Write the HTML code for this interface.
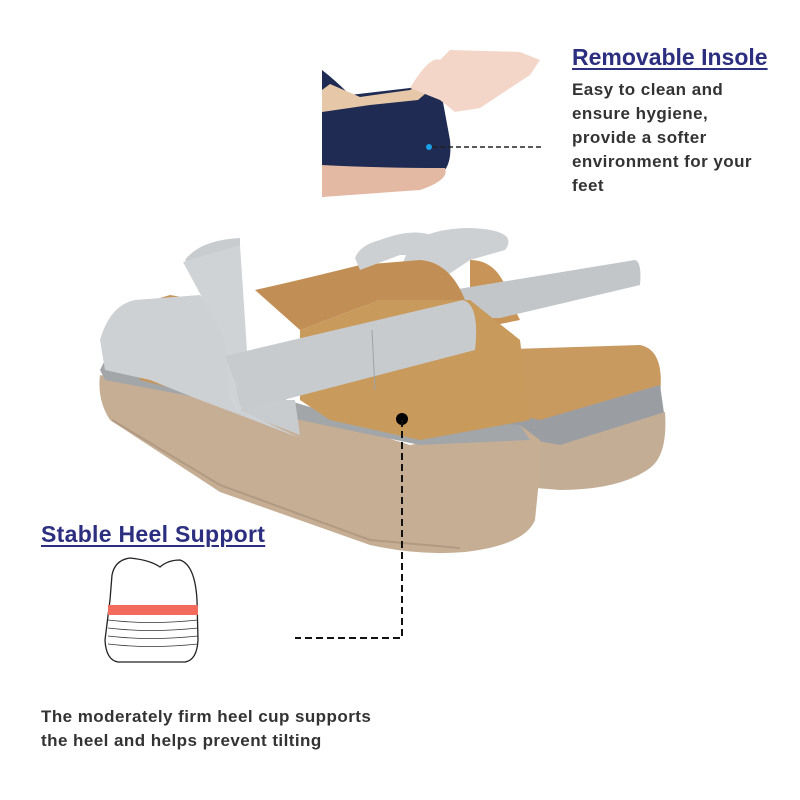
<!DOCTYPE html>
<html><head><meta charset="utf-8"><style>
body{margin:0;background:#fff;}
#c{position:relative;width:800px;height:800px;overflow:hidden;font-family:"Liberation Sans",sans-serif;}
.t{position:absolute;font-weight:bold;color:#2c2e80;font-size:23px;text-decoration:underline;text-decoration-thickness:2px;text-underline-offset:3px;white-space:nowrap;}
.b{position:absolute;font-weight:bold;color:#333;font-size:17px;letter-spacing:0.45px;line-height:24px;white-space:nowrap;}
svg{position:absolute;left:0;top:0;}
</style></head><body><div id="c">
<svg width="800" height="800" viewBox="0 0 800 800">
<!-- inset photo -->
<path d="M322,70 Q335,80 350,95 L410,88 Q430,80 440,86 L450,140 Q452,160 445,170 Q430,180 400,185 L322,197 Z" fill="#1f2b52"/>
<path d="M322,90 L330,84 L360,97 L410,90 Q425,82 432,88 L418,100 L370,105 L322,112 Z" fill="#e6c7a8"/>
<path d="M322,165 Q380,168 445,168 Q450,180 420,190 L322,197 Z" fill="#e3b9a3"/>
<path d="M410,88 Q430,55 440,60 L450,50 L520,52 L540,60 L530,75 L480,108 L455,112 L440,100 Z" fill="#f3d6c8"/>
<circle cx="429" cy="147" r="3" fill="#1aa0e6"/>
<line x1="432" y1="147" x2="542" y2="147" stroke="#222" stroke-width="1.5" stroke-dasharray="5,3"/>
<!-- rear sandal -->
<path d="M505,250 Q520,230 470,228 Q430,228 410,245 L400,270 L440,280 L470,260 Z" fill="#cdd0d2"/>
<path d="M470,260 Q500,260 510,300 L520,320 L470,330 Z" fill="#c89458"/>
<path d="M480,350 L640,345 Q665,350 660,395 L540,430 L480,410 Z" fill="#c99a60"/>
<path d="M470,405 L540,420 L660,385 L665,420 L560,450 L480,440 Z" fill="#9a9ea3"/>
<path d="M480,430 L560,445 L665,412 Q668,455 650,468 Q620,490 560,490 L500,485 L470,470 Z" fill="#c4ad95"/>
<path d="M440,292 L635,260 Q642,262 640,285 L500,318 L445,318 Z" fill="#c2c6c9"/>
<!-- front sandal sole -->
<path d="M100,375 Q97,400 110,420 L220,492 L370,545 Q420,556 465,552 Q525,545 535,520 L540,470 L540,440 L520,425 L410,445 L330,420 L200,395 Z" fill="#c6ae95"/>
<path d="M112,420 L220,485 L370,540 L460,548" fill="none" stroke="#b19a82" stroke-width="2"/>
<path d="M100,370 L115,340 L220,380 L320,410 L520,425 L530,440 L420,445 L300,420 L200,398 L105,380 Z" fill="#a3a6a9"/>
<!-- insole front -->
<path d="M300,330 L380,300 L470,300 L520,340 L530,420 L420,440 L330,420 L300,400 Z" fill="#c89a5c"/>
<path d="M120,310 L170,295 L200,300 L230,380 L200,395 L140,380 Z" fill="#c6955a"/>
<path d="M255,290 Q300,280 360,265 L420,260 Q450,262 465,300 L380,300 L300,330 Z" fill="#c18f55"/>
<!-- upright strap -->
<path d="M185,260 Q200,240 240,238 L240,330 L235,410 L300,435 L295,400 L250,400 L230,300 Z" fill="#c9cccf"/>
<path d="M355,258 Q360,245 380,240 Q420,225 440,240 L440,255 L400,255 L360,270 Z" fill="#cdd0d2"/>
<!-- toe strap -->
<path d="M100,340 Q110,305 135,300 L200,295 L230,330 L240,410 L300,438 L240,415 L200,400 L150,380 L105,370 Z" fill="#cdd1d4"/>
<path d="M183,262 L240,245 L245,320 L250,400 L238,412 L230,400 L225,340 Z" fill="#d0d3d6"/>
<!-- velcro strap -->
<path d="M225,356 L463,300 Q480,305 475,350 L245,410 Q238,408 236,385 Z" fill="#c8cbce"/>
<line x1="372" y1="330" x2="375" y2="390" stroke="#9ea2a6" stroke-width="1"/>
<!-- dot and connector -->
<circle cx="402" cy="419" r="6" fill="#000"/>
<path d="M402,420 L402,638 L295,638" fill="none" stroke="#111" stroke-width="2" stroke-dasharray="7,4"/>
<!-- heel drawing -->
<path d="M110,600 L112,575 Q115,560 130,558 Q150,560 160,567 Q168,560 180,560 Q195,565 197,600 L198,640 Q197,660 185,662 L118,662 Q106,660 105,640 Z" fill="#fff" stroke="#222" stroke-width="1.3"/>
<rect x="108" y="605" width="90" height="10" fill="#f26b5c"/>
<path d="M108,620 Q150,625 198,620 M108,628 Q150,633 198,628 M108,636 Q150,641 198,636 M108,644 Q150,649 198,644" stroke="#333" stroke-width="0.8" fill="none"/>
</svg>
<div class="t" style="left:572px;top:44px;">Removable Insole</div>
<div class="b" style="left:572px;top:78px;">Easy to clean and<br>ensure hygiene,<br>provide a softer<br>environment for your<br>feet</div>
<div class="t" style="left:41px;top:521px;letter-spacing:0.3px;">Stable Heel Support</div>
<div class="b" style="left:41px;top:705px;">The moderately firm heel cup supports<br>the heel and helps prevent tilting</div>
</div></body></html>
